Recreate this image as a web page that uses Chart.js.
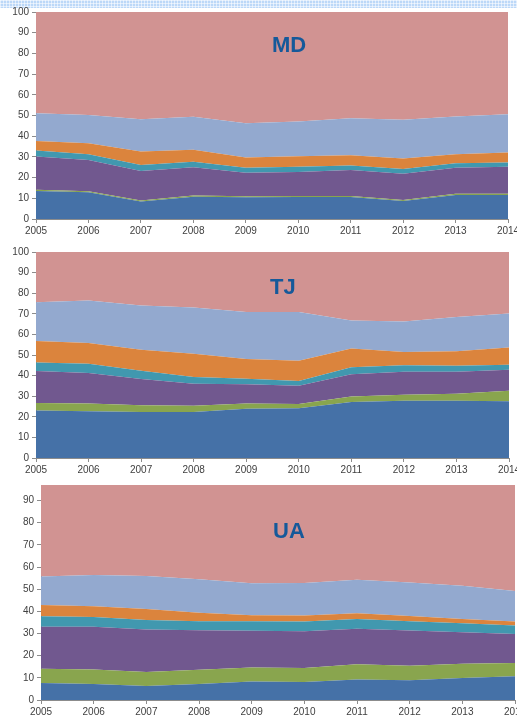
<!DOCTYPE html>
<html>
<head>
<meta charset="utf-8">
<script src="https://cdn.jsdelivr.net/npm/chart.js@4.4.1/dist/chart.umd.min.js"></script>
<style>
html, body { margin: 0; padding: 0; width: 517px; height: 721px; overflow: hidden; background: #fff; position: relative; }
.band { position: absolute; left: 0; top: 0; width: 517px; height: 8px; background-color: #bcd8f8;
  background-image: linear-gradient(to right, rgba(255,255,255,.55) 1px, transparent 1px),
                    linear-gradient(to bottom, rgba(255,255,255,.55) 1px, transparent 1px);
  background-size: 3px 3px; }
canvas { position: absolute; left: 0; }
.ttl { position: absolute; font: bold 22px "Liberation Sans", Arial, sans-serif; line-height: 22px; color: #15599a; }
</style>
</head>
<body>
<div class="band"></div>
<canvas id="md" width="560" height="260"></canvas>
<canvas id="tj" width="560" height="260"></canvas>
<canvas id="ua" width="560" height="260"></canvas>
<div class="ttl" style="left:272px;top:34px">MD</div>
<div class="ttl" style="left:270px;top:276px">TJ</div>
<div class="ttl" style="left:273px;top:520px">UA</div>
<script>
const years = ['2005', '2006', '2007', '2008', '2009', '2010', '2011', '2012', '2013', '2014'];
const layerColors = ['#4571a7', '#89a54e', '#71588f', '#4198af', '#db843d', '#93a9cf', '#d19392'];

// shares per layer, bottom to top (percent)
const mdBlue   = [13.5, 12.9, 8.4, 10.8, 10.5, 10.6, 10.6, 8.7, 11.6, 11.6];
const mdGreen  = [0.6, 0.5, 0.5, 0.6, 0.5, 0.5, 0.5, 0.5, 0.6, 0.6];
const mdPurple = [16.1, 15.1, 14.3, 13.6, 11.4, 11.6, 12.6, 12.7, 12.5, 13.0];
const mdTeal   = [2.9, 2.8, 2.9, 2.7, 2.4, 2.6, 2.1, 2.3, 2.2, 2.1];
const mdOrange = [4.6, 5.3, 6.5, 5.8, 4.9, 5.0, 5.0, 5.0, 4.4, 4.8];
const mdLight  = [13.4, 13.6, 15.6, 15.9, 16.6, 16.8, 17.9, 18.7, 18.2, 18.5];
const mdPink   = [48.9, 49.8, 51.8, 50.6, 53.7, 52.9, 51.3, 52.1, 50.5, 49.4];

const tjBlue   = [23.1, 22.7, 22.3, 22.3, 23.9, 24.1, 27.2, 27.8, 27.8, 27.5];
const tjGreen  = [3.6, 3.7, 3.3, 3.1, 2.5, 2.1, 2.6, 2.9, 3.4, 5.2];
const tjPurple = [15.5, 14.9, 12.7, 10.7, 9.4, 8.9, 10.8, 11.2, 10.7, 10.2];
const tjTeal   = [4.2, 4.5, 4.1, 3.2, 2.7, 2.3, 3.4, 3.1, 2.9, 2.4];
const tjOrange = [10.4, 10.0, 10.2, 11.3, 9.6, 9.8, 9.1, 6.5, 7.0, 8.4];
const tjLight  = [18.8, 20.6, 21.4, 22.5, 22.8, 23.7, 13.7, 14.8, 16.6, 16.4];
const tjPink   = [24.4, 23.6, 26.0, 26.9, 29.1, 29.1, 33.2, 33.7, 31.6, 29.9];

const uaBlue   = [7.7, 7.2, 6.3, 7.2, 8.4, 8.1, 9.2, 8.9, 9.9, 10.7];
const uaGreen  = [6.4, 6.6, 6.3, 6.5, 6.3, 6.3, 6.9, 6.6, 6.4, 6.0];
const uaPurple = [19.0, 19.2, 19.2, 17.8, 16.5, 16.6, 16.0, 15.8, 14.3, 13.1];
const uaTeal   = [4.7, 4.5, 4.3, 4.0, 4.3, 4.4, 4.5, 4.2, 4.0, 3.8];
const uaOrange = [5.1, 4.8, 5.0, 3.9, 2.7, 2.7, 2.5, 2.4, 2.0, 1.8];
const uaLight  = [12.8, 14.1, 14.9, 15.1, 14.5, 14.7, 15.2, 15.1, 14.9, 13.8];
const uaPink   = [44.3, 43.6, 44.0, 45.5, 47.3, 47.2, 45.7, 47.0, 48.5, 50.8];

const axisColor = '#8c8c8c';
const tickFont = { family: '"Liberation Sans", Arial, sans-serif', size: 10 };

// box = plot area in page pixels
function drawPanel(id, top, box, yMax, layers) {
    const canvas = document.getElementById(id);
    canvas.style.top = top + 'px';
    new Chart(canvas, {
        type: 'line',
        data: {
            labels: years,
            datasets: layers.map((v, i) => ({
                data: v,
                backgroundColor: layerColors[i],
                borderWidth: 0,
                pointRadius: 0,
                fill: i === 0 ? 'origin' : '-1'
            }))
        },
        options: {
            responsive: false,
            animation: false,
            devicePixelRatio: 1,
            layout: {
                padding: {
                    top: box.top - top,
                    right: canvas.width - box.right,
                    bottom: canvas.height - (box.bottom - top) - 24,
                    left: 0
                }
            },
            plugins: { legend: { display: false }, tooltip: { enabled: false } },
            scales: {
                x: {
                    grid: { drawOnChartArea: false, tickLength: 4, color: axisColor },
                    border: { color: axisColor },
                    ticks: { font: tickFont, color: '#404040', padding: 2, maxRotation: 0, autoSkip: false },
                    afterFit: s => { s.height = 24; }
                },
                y: {
                    stacked: true,
                    min: 0,
                    max: yMax,
                    grid: { drawOnChartArea: false, tickLength: 4, color: axisColor },
                    border: { color: axisColor },
                    ticks: { stepSize: 10, font: tickFont, color: '#404040', padding: 3 },
                    afterBuildTicks: s => { s.ticks = s.ticks.filter(t => t.value % 10 === 0); },
                    afterFit: s => { s.width = box.left; }
                }
            }
        }
    });
}

drawPanel('md', 0, { left: 36, top: 12, right: 508, bottom: 219 }, 100,
    [mdBlue, mdGreen, mdPurple, mdTeal, mdOrange, mdLight, mdPink]);
drawPanel('tj', 240, { left: 36, top: 252, right: 509, bottom: 458 }, 100,
    [tjBlue, tjGreen, tjPurple, tjTeal, tjOrange, tjLight, tjPink]);
drawPanel('ua', 470, { left: 41, top: 485, right: 515, bottom: 700 }, 97,
    [uaBlue, uaGreen, uaPurple, uaTeal, uaOrange, uaLight, uaPink]);
</script>
</body>
</html>
